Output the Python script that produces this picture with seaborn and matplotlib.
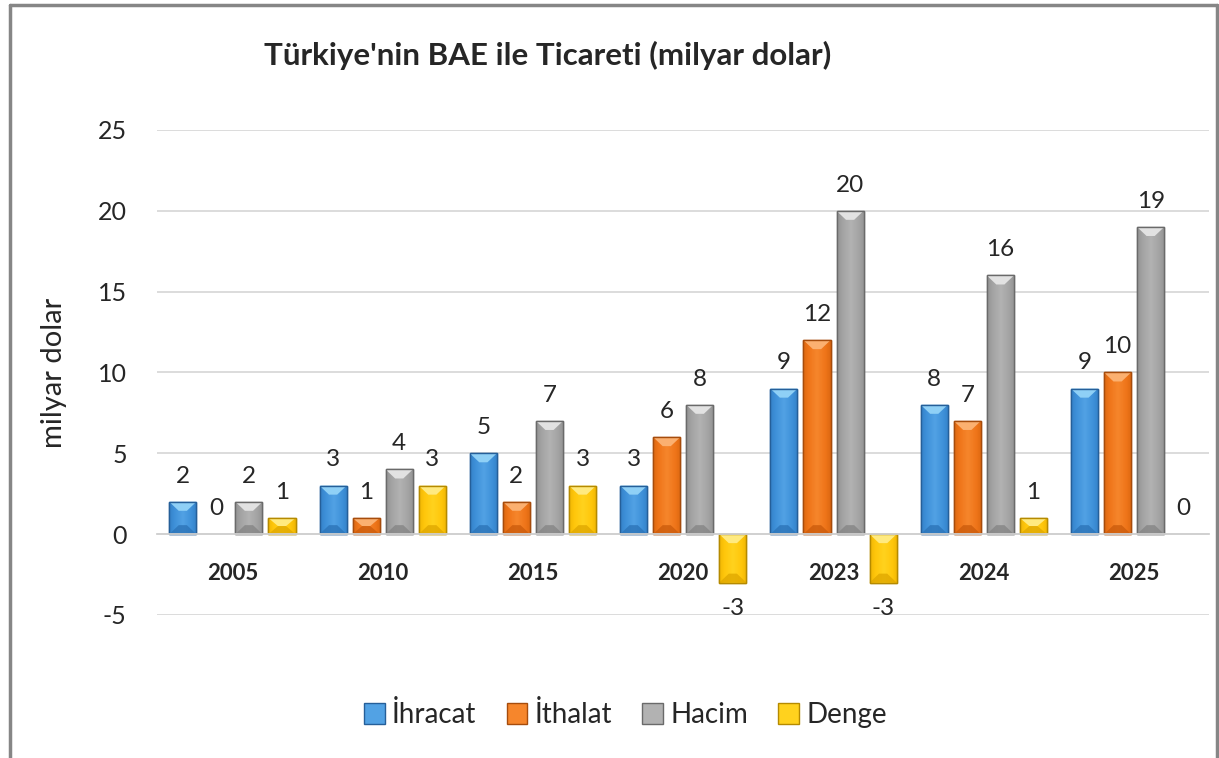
import matplotlib
matplotlib.use("Agg")
import matplotlib.pyplot as plt
from matplotlib.lines import Line2D
from matplotlib.patches import Polygon, Patch
from matplotlib.colors import LinearSegmentedColormap
import numpy as np
import pandas as pd
import seaborn as sns

years = ["2005", "2010", "2015", "2020", "2023", "2024", "2025"]
series = ["İhracat", "İthalat", "Hacim", "Denge"]
ihracat = [2, 3, 5, 3, 9, 8, 9]
ithalat = [0, 1, 2, 6, 12, 7, 10]
hacim = [2, 4, 7, 8, 20, 16, 19]
denge = [1, 3, 3, -3, -3, 1, 0]

colors = {"İhracat": "#3d8fd8", "İthalat": "#ee7418", "Hacim": "#a2a2a2", "Denge": "#ffc60a"}
edges = {"İhracat": "#255f99", "İthalat": "#a64c0c", "Hacim": "#6a6a6a", "Denge": "#b58a00"}
mids = {"İhracat": "#52a2e4", "İthalat": "#f6862c", "Hacim": "#b2b2b2", "Denge": "#ffd21e"}
lights = {"İhracat": "#8fd0f6", "İthalat": "#fbb070", "Hacim": "#e2e2e2", "Denge": "#ffea80"}
darks = {"İhracat": "#2c74b8", "İthalat": "#cc5c0c", "Hacim": "#858585", "Denge": "#e0a800"}

df = pd.DataFrame({"year": years, "İhracat": ihracat, "İthalat": ithalat,
                   "Hacim": hacim, "Denge": denge})
df = df.melt(id_vars="year", var_name="seri", value_name="deger")

sns.set_theme(style="white")
plt.rcParams["font.family"] = ["Lato", "DejaVu Sans"]
plt.rcParams["axes.unicode_minus"] = False

fig = plt.figure(figsize=(12.19, 7.58), dpi=100)
ax = fig.add_axes([0.129, 0.1887, 0.863, 0.6398])

sns.barplot(data=df, x="year", y="deger", hue="seri", hue_order=series,
            palette=colors, width=0.88, gap=0.18, ax=ax, legend=False,
            errorbar=None, saturation=1)

ax.set_ylim(-5, 25)
ax.set_yticks(range(-5, 26, 5))
ax.grid(axis="y", color="#d9d9d9", lw=1.3)
ax.set_axisbelow(True)
for s in ["top", "right", "left"]:
    ax.spines[s].set_visible(False)
ax.spines["bottom"].set_position(("data", 0))
ax.spines["bottom"].set_color("#d0d0d0")
ax.spines["bottom"].set_linewidth(1.3)
ax.tick_params(axis="x", length=0, pad=21, labelsize=16)
ax.tick_params(axis="y", length=0, pad=22, labelsize=18)
for t in ax.get_xticklabels():
    t.set_fontweight("bold")
ax.set_xlabel("")
ax.set_ylabel("milyar dolar", fontsize=21, labelpad=22)

xlim = ax.get_xlim()
ylim = ax.get_ylim()

# bevel / shading look
px_y = 30 / (0.6398 * 758)   # data units per pixel, y
for name, cont in zip(series, ax.containers):
    cmap = LinearSegmentedColormap.from_list(name, [darks[name], colors[name], mids[name],
                                                    colors[name], darks[name]])
    grad = np.linspace(0, 1, 64).reshape(1, -1)
    for p in cont:
        p.set_edgecolor(edges[name])
        p.set_linewidth(1.0)
        h = p.get_height()
        if h == 0:
            p.set_linewidth(0)
            continue
        x0, w = p.get_x(), p.get_width()
        lo = min(p.get_y(), p.get_y() + h)
        top = max(p.get_y(), p.get_y() + h)
        im = ax.imshow(grad, extent=(x0, x0 + w, lo, top), aspect="auto", cmap=cmap,
                       vmin=-0.15, vmax=1.15, zorder=p.get_zorder() + 0.05,
                       interpolation="bilinear")
        im.set_clip_path(p)
        d = min(9 * px_y, abs(h) / 2)
        ins = w * 0.35
        poly = Polygon([(x0, top), (x0 + w, top), (x0 + w - ins, top - d), (x0 + ins, top - d)],
                       closed=True, facecolor=lights[name], edgecolor="none",
                       zorder=p.get_zorder() + 0.1)
        ax.add_patch(poly)
        poly2 = Polygon([(x0, lo), (x0 + w, lo), (x0 + w - ins, lo + d), (x0 + ins, lo + d)],
                        closed=True, facecolor=darks[name], edgecolor="none", alpha=0.8,
                        zorder=p.get_zorder() + 0.1)
        ax.add_patch(poly2)
        edge = Polygon(p.get_path().vertices, closed=True, transform=p.get_transform(),
                       facecolor="none", edgecolor=edges[name], lw=1.0,
                       zorder=p.get_zorder() + 0.2)
        ax.add_patch(edge)
    ax.bar_label(cont, fmt="%.0f", padding=11, fontsize=17.5)

ax.set_xlim(xlim)
ax.set_ylim(ylim)

fig.text(0.4495, 0.927, "Türkiye'nin BAE ile Ticareti (milyar dolar)", ha="center", va="center",
         fontsize=22.5, fontweight="bold")

handles = [Patch(facecolor=mids[n], edgecolor=edges[n], label=n) for n in series]
fig.legend(handles=handles, loc="center", bbox_to_anchor=(0.513, 0.057), ncol=4, frameon=False,
           fontsize=20, handlelength=0.75, handleheight=0.75, handletextpad=0.25, columnspacing=1.1)

# chart border
for xs, ys in [([0.008, 0.008], [0.0, 0.994]), ([0.008, 0.998], [0.994, 0.994]), ([0.998, 0.998], [0.0, 0.994])]:
    fig.add_artist(Line2D(xs, ys, color="#868686", lw=2.5, transform=fig.transFigure))

fig.savefig("out.png", dpi=100)
